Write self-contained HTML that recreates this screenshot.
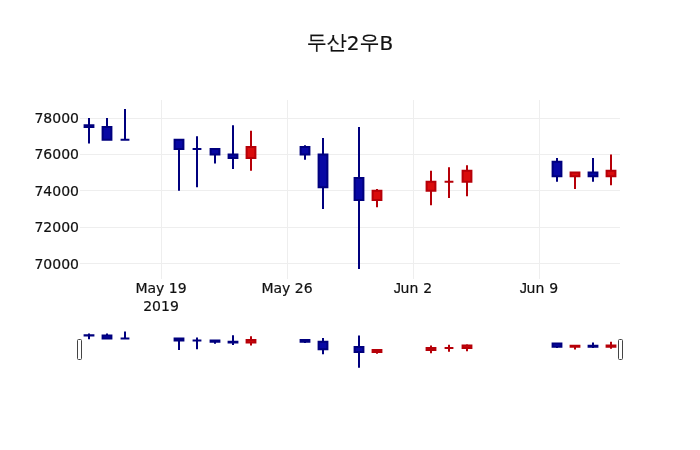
<!DOCTYPE html>
<html lang="ko"><head><meta charset="utf-8"><title>두산2우B</title>
<style>
html,body{margin:0;padding:0;background:#fff;}
body{width:700px;height:450px;overflow:hidden;}
svg{display:block;}
.tick text{font-family:"DejaVu Sans","Liberation Sans",sans-serif;font-size:14px;fill:#111;stroke:#111;stroke-width:0.2px;}
.title{font-family:"DejaVu Sans","WenQuanYi Zen Hei","Noto Sans CJK KR",sans-serif;font-size:20px;fill:#111;stroke:#111;stroke-width:0.2px;}
</style></head><body>
<svg width="700" height="450" viewBox="0 0 700 450">
<rect width="700" height="450" fill="#fff"/>
<g shape-rendering="crispEdges">
<path d="M80,263.5H620" stroke="#eee" stroke-width="1"/>
<path d="M80,227.5H620" stroke="#eee" stroke-width="1"/>
<path d="M80,190.5H620" stroke="#eee" stroke-width="1"/>
<path d="M80,154.5H620" stroke="#eee" stroke-width="1"/>
<path d="M80,118.5H620" stroke="#eee" stroke-width="1"/>
<path d="M161.5,100V278.5" stroke="#eee" stroke-width="1"/>
<path d="M287.5,100V278.5" stroke="#eee" stroke-width="1"/>
<path d="M413.5,100V278.5" stroke="#eee" stroke-width="1"/>
<path d="M539.5,100V278.5" stroke="#eee" stroke-width="1"/>
</g>
<g class="candles">
<path d="M84.59,125.28H93.41V127.10H84.59ZM89,125.28V118.00M89,127.10V143.48" fill="#0808a4" stroke="#00007e" stroke-width="2"/>
<path d="M102.59,127.10H111.41V139.84H102.59ZM107,127.10V118.00M107,139.84V139.84" fill="#0808a4" stroke="#00007e" stroke-width="2"/>
<path d="M120.59,139.84H129.41V139.84H120.59ZM125,139.84V108.90M125,139.84V139.84" fill="#0808a4" stroke="#00007e" stroke-width="2"/>
<path d="M174.59,139.84H183.41V148.94H174.59ZM179,139.84V139.84M179,148.94V190.80" fill="#0808a4" stroke="#00007e" stroke-width="2"/>
<path d="M192.59,148.94H201.41V148.94H192.59ZM197,148.94V136.20M197,148.94V187.16" fill="#0808a4" stroke="#00007e" stroke-width="2"/>
<path d="M210.59,148.94H219.41V154.40H210.59ZM215,148.94V148.94M215,154.40V163.50" fill="#0808a4" stroke="#00007e" stroke-width="2"/>
<path d="M228.59,154.40H237.41V158.04H228.59ZM233,154.40V125.28M233,158.04V168.96" fill="#0808a4" stroke="#00007e" stroke-width="2"/>
<path d="M246.59,147.12H255.41V158.04H246.59ZM251,147.12V130.74M251,158.04V170.78" fill="#da0c0c" stroke="#b60008" stroke-width="2"/>
<path d="M300.59,147.12H309.41V154.40H300.59ZM305,147.12V145.30M305,154.40V159.86" fill="#0808a4" stroke="#00007e" stroke-width="2"/>
<path d="M318.59,154.40H327.41V187.16H318.59ZM323,154.40V138.02M323,187.16V209.00" fill="#0808a4" stroke="#00007e" stroke-width="2"/>
<path d="M354.59,178.06H363.41V199.90H354.59ZM359,178.06V127.10M359,199.90V269.06" fill="#0808a4" stroke="#00007e" stroke-width="2"/>
<path d="M372.59,190.80H381.41V199.90H372.59ZM377,190.80V188.98M377,199.90V207.18" fill="#da0c0c" stroke="#b60008" stroke-width="2"/>
<path d="M426.59,181.70H435.41V190.80H426.59ZM431,181.70V170.78M431,190.80V205.36" fill="#da0c0c" stroke="#b60008" stroke-width="2"/>
<path d="M444.59,181.70H453.41V181.70H444.59ZM449,181.70V167.14M449,181.70V198.08" fill="#da0c0c" stroke="#b60008" stroke-width="2"/>
<path d="M462.59,170.78H471.41V181.70H462.59ZM467,170.78V165.32M467,181.70V196.26" fill="#da0c0c" stroke="#b60008" stroke-width="2"/>
<path d="M552.59,161.68H561.41V176.24H552.59ZM557,161.68V158.04M557,176.24V181.70" fill="#0808a4" stroke="#00007e" stroke-width="2"/>
<path d="M570.59,172.60H579.41V176.24H570.59ZM575,172.60V172.60M575,176.24V188.98" fill="#da0c0c" stroke="#b60008" stroke-width="2"/>
<path d="M588.59,172.60H597.41V176.24H588.59ZM593,172.60V158.04M593,176.24V181.70" fill="#0808a4" stroke="#00007e" stroke-width="2"/>
<path d="M606.59,170.78H615.41V176.24H606.59ZM611,170.78V154.40M611,176.24V185.34" fill="#da0c0c" stroke="#b60008" stroke-width="2"/>
</g>
<g class="tick">
<text x="79" y="268.50" text-anchor="end">70000</text>
<text x="79" y="232.10" text-anchor="end">72000</text>
<text x="79" y="195.70" text-anchor="end">74000</text>
<text x="79" y="159.30" text-anchor="end">76000</text>
<text x="79" y="122.90" text-anchor="end">78000</text>
<text x="161" y="293" text-anchor="middle">May 19</text>
<text x="287" y="293" text-anchor="middle">May 26</text>
<text x="413" y="293" text-anchor="middle"><tspan style="font-family:'Liberation Sans',sans-serif;font-size:14.4px">J</tspan><tspan dx="-0.5">un</tspan><tspan dx="0.5"> 2</tspan></text>
<text x="539" y="293" text-anchor="middle"><tspan style="font-family:'Liberation Sans',sans-serif;font-size:14.4px">J</tspan><tspan dx="-0.5">un</tspan><tspan dx="0.5"> 9</tspan></text>
<text x="161" y="311" text-anchor="middle">2019</text>
</g>
<text class="title" x="350" y="50" text-anchor="middle"><tspan dy="-1.5">두산</tspan><tspan dy="1.5">2</tspan><tspan dy="-1.5">우</tspan><tspan dy="1.5">B</tspan></text>
<g class="slider">
<path d="M84.59,335.14H93.41V335.55H84.59ZM89,335.14V333.48M89,335.55V339.27" fill="#0808a4" stroke="#00007e" stroke-width="2"/>
<path d="M102.59,335.55H111.41V338.44H102.59ZM107,335.55V333.48M107,338.44V338.44" fill="#0808a4" stroke="#00007e" stroke-width="2"/>
<path d="M120.59,338.44H129.41V338.44H120.59ZM125,338.44V331.42M125,338.44V338.44" fill="#0808a4" stroke="#00007e" stroke-width="2"/>
<path d="M174.59,338.44H183.41V340.50H174.59ZM179,338.44V338.44M179,340.50V350.00" fill="#0808a4" stroke="#00007e" stroke-width="2"/>
<path d="M192.59,340.50H201.41V340.50H192.59ZM197,340.50V337.61M197,340.50V349.18" fill="#0808a4" stroke="#00007e" stroke-width="2"/>
<path d="M210.59,340.50H219.41V341.74H210.59ZM215,340.50V340.50M215,341.74V343.81" fill="#0808a4" stroke="#00007e" stroke-width="2"/>
<path d="M228.59,341.74H237.41V342.57H228.59ZM233,341.74V335.14M233,342.57V345.05" fill="#0808a4" stroke="#00007e" stroke-width="2"/>
<path d="M246.59,340.09H255.41V342.57H246.59ZM251,340.09V336.37M251,342.57V345.46" fill="#da0c0c" stroke="#b60008" stroke-width="2"/>
<path d="M300.59,340.09H309.41V341.74H300.59ZM305,340.09V339.68M305,341.74V342.98" fill="#0808a4" stroke="#00007e" stroke-width="2"/>
<path d="M318.59,341.74H327.41V349.18H318.59ZM323,341.74V338.03M323,349.18V354.13" fill="#0808a4" stroke="#00007e" stroke-width="2"/>
<path d="M354.59,347.11H363.41V352.07H354.59ZM359,347.11V335.55M359,352.07V367.76" fill="#0808a4" stroke="#00007e" stroke-width="2"/>
<path d="M372.59,350.00H381.41V352.07H372.59ZM377,350.00V349.59M377,352.07V353.72" fill="#da0c0c" stroke="#b60008" stroke-width="2"/>
<path d="M426.59,347.94H435.41V350.00H426.59ZM431,347.94V345.46M431,350.00V353.31" fill="#da0c0c" stroke="#b60008" stroke-width="2"/>
<path d="M444.59,347.94H453.41V347.94H444.59ZM449,347.94V344.63M449,347.94V351.65" fill="#da0c0c" stroke="#b60008" stroke-width="2"/>
<path d="M462.59,345.46H471.41V347.94H462.59ZM467,345.46V344.22M467,347.94V351.24" fill="#da0c0c" stroke="#b60008" stroke-width="2"/>
<path d="M552.59,343.39H561.41V346.70H552.59ZM557,343.39V342.57M557,346.70V347.94" fill="#0808a4" stroke="#00007e" stroke-width="2"/>
<path d="M570.59,345.87H579.41V346.70H570.59ZM575,345.87V345.87M575,346.70V349.59" fill="#da0c0c" stroke="#b60008" stroke-width="2"/>
<path d="M588.59,345.87H597.41V346.70H588.59ZM593,345.87V342.57M593,346.70V347.94" fill="#0808a4" stroke="#00007e" stroke-width="2"/>
<path d="M606.59,345.46H615.41V346.70H606.59ZM611,345.46V341.74M611,346.70V348.76" fill="#da0c0c" stroke="#b60008" stroke-width="2"/>
<rect x="77.5" y="339.5" width="4" height="20" rx="1" fill="#fff" stroke="#444" stroke-width="1"/>
<rect x="618.5" y="339.5" width="4" height="20" rx="1" fill="#fff" stroke="#444" stroke-width="1"/>
</g>
</svg>
</body></html>
